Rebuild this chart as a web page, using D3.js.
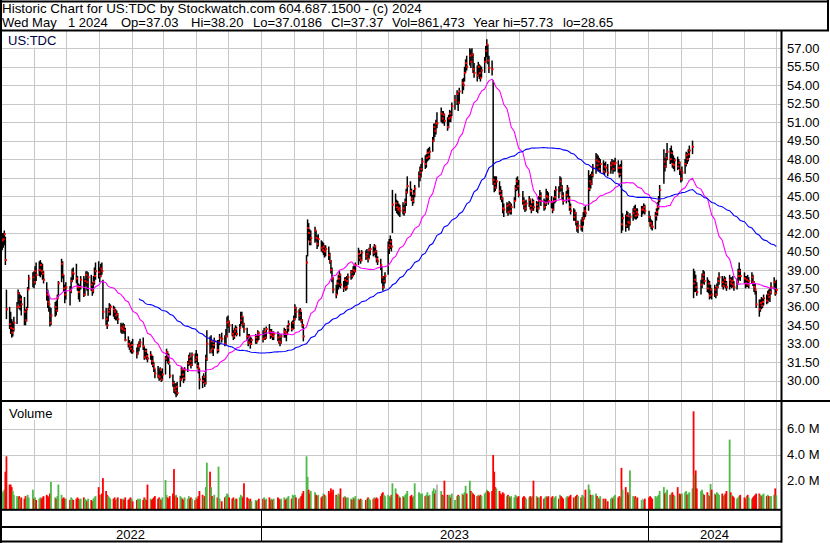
<!DOCTYPE html>
<html><head><meta charset="utf-8">
<script src="https://cdn.jsdelivr.net/npm/d3@7"></script>
<style>
body{margin:0;background:#fff;}
svg{display:block;font-family:"Liberation Sans",Arial,sans-serif;}
</style></head><body>
<svg id="c" width="830" height="543"></svg>
<script>
const headerLine1 = "Historic Chart for US:TDC by Stockwatch.com 604.687.1500 - (c) 2024";
const headerFields = ["Wed May","1 2024","Op=37.03","Hi=38.20","Lo=37.0186","Cl=37.37","Vol=861,473","Year hi=57.73","lo=28.65"];
const symbolLabel = "US:TDC";
const volumeLabel = "Volume";
const priceTicks = [30,31.5,33,34.5,36,37.5,39,40.5,42,43.5,45,46.5,48,49.5,51,52.5,54,55.5,57];
const volumeTicks = [2e6,4e6,6e6];
const yearLabels = ["2022","2023","2024"];
const maPeriods = [30, 90];
const holidays = ["2022-05-30","2022-06-20","2022-07-04","2022-09-05","2022-11-24","2022-12-26",
 "2023-01-02","2023-01-16","2023-02-20","2023-04-07","2023-05-29","2023-06-19","2023-07-04","2023-09-04",
 "2023-11-23","2023-12-25","2024-01-01","2024-01-15","2024-02-19","2024-03-29"];

const closes = [
 41.4,41.5,41.9,39.8,35.8,34.6,34.3,33.9,34.2,34.7,36.0,37.1,36.0,36.6,36.2,35.6,34.9,35.8,37.4,38.3,38.4,
 38.0,38.9,38.6,39.0,39.4,38.9,38.7,38.2,37.0,36.4,36.2,34.7,35.3,36.0,35.7,36.7,37.9,39.5,38.6,37.5,37.0,
 37.6,37.3,38.1,38.8,38.7,38.3,37.6,37.2,37.6,38.2,37.0,38.1,38.6,38.0,38.4,37.8,37.3,38.0,38.5,38.9,
 38.8,38.5,39.1,38.9,35.6,35.0,34.5,35.6,35.8,36.0,35.8,35.6,35.3,35.4,35.0,34.3,34.2,34.4,34.1,33.3,33.0,32.8,32.6,
 32.9,32.4,32.2,32.8,32.9,33.1,32.8,31.9,32.4,32.0,31.8,32.1,31.6,31.3,31.0,30.6,30.4,30.3,30.9,30.1,30.5,
 31.8,32.3,32.0,31.5,30.4,29.8,29.4,29.2,29.5,29.0,30.1,30.9,30.5,30.2,30.9,31.4,31.9,31.6,31.3,32.1,31.7,
 31.9,31.2,31.0,30.1,30.0,30.3,29.8,31.8,33.0,32.4,33.2,32.6,32.9,33.2,32.5,33.1,33.5,33.4,33.0,33.6,34.7,
 34.8,34.5,33.8,33.6,34.0,34.2,33.8,34.3,34.9,35.2,34.6,34.2,33.6,33.1,33.6,33.0,33.3,33.5,33.2,33.9,33.7,
 33.4,34.0,33.5,34.2,34.0,33.7,33.9,33.6,33.8,33.5,33.2,33.1,33.6,34.0,33.9,33.8,34.3,34.6,34.2,34.7,
 35.0,35.9,35.6,35.3,35.7,34.9,34.5,33.6,39.6,42.4,42.0,41.3,41.6,42.2,41.6,41.1,41.5,40.8,40.6,
 40.9,40.5,40.7,40.2,39.7,39.0,38.3,37.4,37.0,37.9,38.3,38.6,37.8,37.5,38.2,37.6,38.1,38.4,38.8,38.5,39.0,38.9,39.4,
 40.3,40.0,39.8,40.4,40.1,40.3,39.9,40.6,40.7,40.4,40.9,40.5,39.9,39.7,39.4,38.4,37.6,38.1,38.5,
 40.8,41.0,41.3,40.9,44.3,44.4,44.1,43.9,44.0,43.8,44.0,43.7,44.5,45.3,45.8,45.4,44.8,44.6,45.2,45.6,46.6,46.9,
 47.2,47.8,47.6,48.1,48.5,48.2,48.6,49.5,50.6,50.3,50.9,50.9,51.7,51.3,51.6,51.1,50.6,51.3,51.7,51.4,52.3,
 52.8,53.3,52.6,53.5,54.2,54.0,55.0,55.8,55.5,56.4,55.9,56.5,55.3,55.0,54.8,55.5,55.0,54.6,55.2,55.9,
 56.8,57.3,56.0,55.4,55.3,46.3,46.0,45.7,46.2,45.4,45.1,44.8,44.0,43.9,44.2,43.7,44.3,43.8,44.1,44.6,45.6,46.2,45.8,
 45.1,44.6,44.3,44.0,44.4,44.7,44.2,43.9,44.5,44.1,44.3,44.0,44.6,45.0,44.6,44.1,44.4,45.0,44.9,44.6,
 44.5,43.9,44.6,44.9,45.5,45.2,46.2,45.7,45.0,44.6,45.1,45.6,44.8,44.1,43.8,43.3,43.6,42.9,42.4,42.6,42.5,43.0,
 43.2,43.8,43.6,45.6,46.2,46.0,46.7,47.3,47.9,47.5,47.8,47.2,47.6,47.0,47.4,47.3,46.9,47.5,47.7,47.2,47.6,
 47.7,47.3,46.8,47.3,42.7,43.2,42.6,43.4,42.9,42.8,43.3,43.6,43.9,43.4,43.7,43.5,43.9,43.9,44.1,43.8,
 43.3,42.8,42.6,42.5,43.4,43.7,44.1,44.7,45.5,47.8,47.4,48.1,48.6,48.0,48.5,47.6,47.5,47.9,47.4,47.7,47.1,
 46.4,46.9,47.6,48.3,48.0,48.4,48.7,49.0,37.9,38.2,37.6,37.2,37.8,38.3,38.6,38.1,37.5,37.9,36.9,37.4,
 37.0,37.4,37.0,37.6,38.1,38.4,38.0,37.7,38.2,37.9,37.6,38.2,37.9,38.1,37.8,37.6,38.0,38.5,38.9,38.5,
 38.3,37.9,38.2,37.8,38.1,38.4,38.0,37.6,37.4,36.2,35.8,36.3,36.1,36.4,36.7,36.5,37.0,36.8,37.2,37.6,38.0,37.1,
 37.37
];
const highs = [
 42.0,42.0,42.2,41.7,37.4,36.0,35.6,35.0,34.8,35.2,36.4,37.4,37.2,37.0,36.9,36.8,35.8,36.0,37.6,38.6,38.8,
 38.9,39.3,39.6,39.7,39.8,39.6,39.5,38.9,38.0,37.4,36.9,36.0,35.9,36.4,36.5,37.0,38.1,39.9,39.7,38.6,37.8,
 38.0,37.7,38.4,39.1,39.2,39.5,38.5,37.9,37.8,38.5,38.5,38.3,38.9,38.9,38.8,38.6,38.0,38.5,39.2,39.6,
 39.7,39.2,39.5,39.6,38.2,35.9,35.2,35.9,36.3,36.2,36.1,36.0,35.8,35.7,35.5,34.7,34.6,34.7,34.6,34.3,33.6,33.3,33.1,
 33.2,33.4,32.7,33.0,33.2,33.4,33.5,32.8,32.6,32.6,32.2,32.4,32.1,32.0,31.5,31.0,31.2,31.0,31.1,30.8,31.0,
 32.0,32.6,32.4,32.2,31.3,30.5,30.0,29.8,29.8,29.9,30.4,31.1,31.0,30.9,31.1,31.6,32.1,32.3,31.9,32.3,32.2,
 32.5,32.2,31.5,31.0,30.4,30.6,30.4,32.1,34.1,33.6,33.7,33.2,33.1,33.5,33.3,33.3,33.8,33.9,33.7,34.2,35.2,
 35.3,34.9,34.6,34.1,34.3,34.5,34.4,34.6,35.6,35.6,35.2,34.7,34.3,33.8,33.8,33.6,33.5,33.8,33.7,34.1,34.0,
 34.1,34.3,34.0,34.4,34.6,34.2,34.2,34.0,34.0,34.0,33.9,33.5,33.8,34.3,34.2,34.0,34.5,34.9,34.8,34.9,
 35.3,36.2,36.0,35.8,35.9,35.6,35.0,34.6,40.2,43.1,42.8,42.3,42.2,42.5,42.2,41.8,41.9,41.4,41.3,
 41.2,41.0,41.0,40.9,40.4,39.8,39.2,38.4,37.8,38.2,38.6,38.9,38.7,38.1,38.4,38.4,38.5,38.7,39.0,39.0,39.3,39.4,39.6,
 40.8,40.6,40.3,40.6,40.6,40.7,40.5,40.8,41.1,40.9,41.1,41.0,40.6,40.1,39.9,39.3,38.5,38.5,38.8,
 41.3,41.5,41.8,41.5,45.5,45.2,44.7,44.6,44.4,44.3,44.5,44.3,44.8,45.6,46.6,46.2,45.6,45.1,45.5,45.9,47.0,47.4,
 47.6,48.1,48.3,48.4,48.8,48.9,49.0,49.8,50.9,50.9,51.2,51.8,52.2,51.9,51.9,51.7,51.4,51.6,52.0,51.9,52.6,
 53.2,53.6,53.4,53.8,54.5,54.6,55.5,56.1,56.4,57.0,56.9,57.0,56.6,55.8,55.6,55.9,55.7,55.6,55.5,56.3,
 57.2,57.73,57.3,56.4,56.0,54.4,46.6,46.6,46.6,46.2,45.8,45.5,44.9,44.4,44.5,44.4,44.6,44.5,44.4,44.9,45.9,46.5,46.6,
 46.3,45.4,44.9,44.6,44.7,45.0,44.8,44.4,44.8,44.7,44.6,44.5,45.0,45.5,45.3,44.8,44.7,45.6,45.4,45.3,
 45.0,44.6,44.9,45.5,45.8,45.8,46.6,46.5,45.9,45.3,45.4,45.9,45.7,45.0,44.4,44.0,43.9,43.7,43.0,43.0,43.1,43.3,
 43.7,44.1,44.2,47.1,46.7,46.8,47.0,47.6,48.5,48.4,48.3,48.1,48.0,47.9,47.7,47.8,47.6,47.8,48.0,47.9,47.9,
 48.1,47.9,47.5,47.6,47.9,43.6,43.5,43.8,43.7,43.3,43.6,44.0,44.2,44.3,44.0,44.0,44.2,44.2,44.4,44.3,
 43.8,43.4,43.1,43.0,43.7,44.0,44.5,45.0,45.9,48.8,48.1,48.5,49.3,48.9,49.1,48.7,48.3,48.1,48.2,48.0,47.8,
 47.2,47.4,48.0,48.6,48.5,48.8,49.1,49.5,39.1,38.9,38.6,38.0,38.2,38.7,39.0,38.9,38.4,38.2,38.1,37.8,
 37.5,37.8,37.6,37.9,38.4,38.8,38.5,38.3,38.5,38.4,38.1,38.6,38.4,38.4,38.5,38.1,38.3,39.1,39.6,39.1,
 38.8,38.5,38.5,38.6,38.4,38.8,38.6,38.1,37.9,37.3,36.6,36.6,36.8,36.7,37.0,37.0,37.3,37.4,37.5,38.0,38.4,38.1,
 38.20
];
const lows = [
 40.6,40.8,41.0,39.4,35.0,34.2,33.8,33.5,33.6,34.0,34.6,36.2,35.8,35.7,35.3,34.5,34.5,34.8,35.9,37.4,37.6,
 37.5,37.8,38.1,38.5,38.4,38.6,38.2,37.9,36.5,35.9,35.6,34.4,34.5,35.2,35.3,35.6,36.8,38.0,38.3,37.2,36.3,
 36.6,36.1,37.1,38.0,38.2,37.9,37.3,36.6,36.4,37.4,36.8,36.9,37.7,37.3,36.9,37.3,36.9,37.1,37.8,38.2,
 38.3,38.0,38.4,38.6,35.0,34.5,34.2,34.8,35.3,35.3,35.2,35.0,34.9,34.9,34.6,33.9,33.8,33.9,33.8,33.2,32.7,32.5,32.3,
 32.2,32.2,31.8,32.1,32.4,32.7,32.5,31.7,31.8,31.7,31.5,31.7,31.3,31.1,30.7,30.2,30.2,30.0,30.1,29.9,30.0,
 30.5,31.6,31.4,31.3,30.2,29.5,29.0,28.9,28.65,28.8,29.5,30.0,30.2,29.8,30.0,30.7,31.2,31.3,31.0,31.2,31.4,
 31.5,31.0,30.6,29.3,29.4,29.8,29.5,29.7,31.6,32.2,32.6,32.2,32.0,32.6,32.2,32.3,32.9,33.1,32.8,32.9,33.5,
 34.3,33.9,33.6,33.3,33.4,33.7,33.6,33.6,34.4,34.6,34.3,33.9,33.3,32.8,33.0,32.6,32.9,33.0,33.0,33.2,33.3,
 33.1,33.3,33.3,33.4,33.8,33.4,33.5,33.3,33.3,33.2,33.0,32.8,33.0,33.5,33.5,33.2,33.7,34.0,34.0,34.1,
 34.2,34.9,35.1,34.9,34.9,34.7,34.3,33.2,36.3,40.1,41.4,41.0,41.0,41.2,41.3,40.7,40.9,40.5,40.4,
 40.2,40.0,40.1,39.8,39.5,38.7,38.0,37.1,36.7,37.0,37.4,37.6,37.5,37.2,37.5,37.3,37.4,37.8,38.2,38.3,38.5,38.6,38.8,
 39.4,39.7,39.5,39.7,39.8,39.9,39.6,39.9,40.2,40.1,40.2,40.0,39.6,39.4,39.0,37.9,37.3,37.5,37.9,
 38.6,40.3,40.7,40.5,42.0,43.8,43.6,43.5,43.4,43.3,43.5,43.4,43.6,44.2,45.2,45.0,44.6,44.2,44.4,44.9,45.7,46.2,
 46.5,47.0,47.2,47.3,47.8,47.9,48.0,48.6,49.4,49.8,50.0,50.5,51.0,50.9,50.9,50.7,50.3,50.5,51.0,51.0,51.5,
 52.0,52.4,51.9,52.5,53.3,53.6,54.3,55.0,55.2,55.6,55.4,55.8,55.0,54.6,54.3,54.7,54.5,54.3,54.6,55.0,
 55.8,56.3,55.7,55.0,54.8,45.9,45.3,45.4,45.6,45.1,44.7,44.5,43.6,43.3,43.6,43.4,43.6,43.5,43.5,44.0,44.6,45.4,45.5,
 44.9,44.3,43.9,43.7,43.8,44.1,43.9,43.6,43.8,43.8,43.7,43.6,43.9,44.5,44.2,43.8,43.9,44.2,44.5,44.3,
 44.0,43.6,43.8,44.4,44.5,44.8,45.3,45.4,44.7,44.3,44.4,44.9,44.5,43.8,43.5,43.0,43.0,42.6,42.1,42.0,42.2,42.1,
 42.6,43.1,43.3,43.8,45.4,45.6,45.9,46.5,46.8,47.1,47.0,47.0,46.9,46.8,46.7,46.9,46.6,46.8,47.1,46.8,47.0,
 47.0,46.9,46.5,46.6,42.0,42.2,42.1,42.4,42.4,42.2,42.6,43.0,43.2,43.1,43.1,43.2,43.3,43.5,43.6,43.5,
 42.9,42.5,42.3,42.2,42.3,43.0,43.4,43.9,44.5,46.0,47.0,47.3,47.9,47.6,47.7,47.3,47.2,47.0,47.1,47.2,46.7,
 46.1,46.2,46.8,47.4,47.6,47.8,48.1,48.4,36.7,37.2,37.2,36.9,37.0,37.5,37.9,37.8,37.2,37.1,36.6,36.7,
 36.6,36.8,36.7,36.9,37.5,37.8,37.6,37.4,37.6,37.5,37.3,37.4,37.6,37.5,37.6,37.3,37.4,37.9,38.2,38.1,
 37.9,37.5,37.6,37.6,37.5,37.9,37.7,37.2,37.0,35.9,35.2,35.6,35.8,35.9,36.1,36.2,36.3,36.5,36.4,37.0,37.4,36.9,
 37.0186
];
// volume in millions of shares
const volumes = [
 1.2,1.1,1.3,2.7,3.9,1.7,1.7,1.5,1.2,0.9,0.8,0.7,0.8,0.6,0.7,0.6,0.8,0.6,0.9,0.7,1.3,
 0.6,0.7,0.5,0.6,0.7,0.6,0.7,0.8,0.9,0.8,0.7,1.0,1.9,0.7,0.6,0.8,1.7,0.9,0.6,0.7,0.6,
 0.6,0.5,0.7,0.6,0.5,0.6,0.7,0.6,0.5,0.6,0.7,0.6,0.5,0.4,0.6,0.5,0.4,0.6,0.7,0.8,
 1.5,0.9,0.8,1.0,2.2,1.2,0.9,0.8,0.7,0.6,0.6,0.7,0.5,0.6,0.7,0.6,0.5,0.6,0.5,0.7,0.5,0.6,0.7,
 0.6,0.4,0.5,0.6,0.5,0.6,0.5,0.7,0.6,0.5,1.7,0.6,0.5,0.6,0.7,0.8,0.6,0.7,0.6,0.5,0.7,
 2.05,0.9,0.7,0.6,0.8,1.0,2.9,0.8,0.9,0.7,0.8,0.7,0.6,0.5,0.7,0.6,0.8,0.6,0.7,0.6,0.5,
 0.7,0.6,0.8,1.2,0.9,0.7,0.8,1.5,3.4,2.7,1.5,0.8,0.7,0.9,0.7,3.1,0.6,0.4,0.7,0.8,1.0,
 0.9,0.7,0.6,0.7,0.5,0.6,0.6,0.7,0.9,0.8,0.7,1.8,0.7,0.6,0.5,0.6,0.4,0.5,0.4,0.5,0.6,
 0.6,0.7,0.5,0.6,0.7,0.5,0.6,0.5,0.6,0.7,0.6,0.5,0.6,0.7,0.5,0.6,0.7,0.8,0.6,0.9,
 0.8,0.9,0.7,0.6,0.7,0.8,1.0,1.2,3.9,2.3,1.3,1.0,1.2,1.1,0.9,0.8,0.9,0.7,0.8,
 1.0,0.9,0.8,1.2,1.0,1.4,1.1,1.3,0.9,0.8,1.0,0.9,1.4,0.7,0.8,0.7,0.6,0.7,0.6,0.5,0.7,0.6,0.8,
 0.6,0.5,0.6,0.5,0.5,0.6,0.7,0.6,0.5,0.6,0.7,0.6,0.7,0.6,0.8,1.0,1.1,0.9,0.8,
 0.9,0.8,0.7,0.9,1.8,1.4,1.0,0.9,0.8,0.7,0.8,0.7,0.9,1.0,1.2,0.8,0.9,0.7,0.8,1.8,1.1,1.0,
 0.9,1.0,0.8,0.9,1.1,0.8,0.9,1.2,1.4,1.0,1.3,1.7,1.2,0.9,0.8,2.0,0.9,0.8,0.9,0.7,1.0,
 0.5,0.8,0.9,0.8,1.0,0.9,1.1,1.6,1.0,2.0,1.2,1.1,1.0,0.9,0.8,0.9,0.8,0.9,0.8,1.0,
 1.1,1.3,1.2,1.1,1.2,4.0,2.7,1.5,1.4,1.2,1.0,0.9,1.1,1.0,0.8,0.9,0.8,0.7,0.8,0.7,0.9,0.8,0.7,
 0.8,0.7,0.8,0.7,0.6,0.7,0.8,0.7,0.8,2.0,0.8,0.7,0.6,0.7,0.8,0.6,0.7,0.8,0.7,0.8,
 0.7,0.8,0.6,0.7,0.8,0.6,0.9,0.8,0.7,0.6,0.7,0.8,0.7,0.8,0.9,0.7,0.6,0.8,0.9,0.8,0.7,0.9,
 0.8,0.7,1.3,1.7,1.3,0.9,0.8,0.9,1.0,0.8,0.7,0.6,0.8,0.6,0.5,0.6,0.4,0.6,0.7,0.6,0.8,
 0.9,0.7,0.8,0.7,3.0,1.3,1.5,1.0,1.1,0.9,2.8,0.8,0.7,0.8,0.6,0.7,0.5,0.6,0.5,0.6,
 0.7,0.8,0.7,0.6,0.8,0.7,0.8,0.9,1.2,1.5,1.0,1.1,1.3,0.9,1.0,1.1,0.9,0.8,1.5,0.9,1.0,
 0.9,1.0,1.1,1.2,0.9,1.0,1.1,1.4,7.4,2.5,2.8,1.4,1.2,1.3,1.0,0.9,1.1,0.9,0.8,1.75,
 1.3,1.0,0.9,1.1,1.0,0.9,1.0,0.8,0.9,1.0,1.2,5.2,1.1,0.9,0.8,0.7,0.6,0.7,0.8,0.9,
 0.7,0.6,0.8,0.9,0.7,0.6,0.7,0.8,0.9,1.0,1.0,0.9,0.8,0.9,1.0,0.8,0.9,0.8,0.7,0.8,0.9,1.4,
 0.861473
];

// ---- trading calendar (weekdays minus exchange holidays) ----
const hol = new Set(holidays);
const dates = [];
for (let t = Date.UTC(2022,4,2); t <= Date.UTC(2024,4,1); t += 864e5) {
  const d = new Date(t), wd = d.getUTCDay();
  if (wd === 0 || wd === 6) continue;
  if (hol.has(d.toISOString().slice(0,10))) continue;
  dates.push(d);
}
const n = Math.min(dates.length, closes.length, highs.length, lows.length, volumes.length);
const data = d3.range(n).map(i => ({date: dates[i], c: closes[i], h: highs[i], l: lows[i], v: volumes[i]*1e6}));

const svg = d3.select("#c");
const L = 2, R = 781, PT = 31, PB = 400, VT = 402, VB = 509;

const x = d3.scaleUtc().domain([new Date(Date.UTC(2022,4,1)), new Date(Date.UTC(2024,4,1))]).range([1.13, 776.3]);
const y = d3.scaleLinear().domain([30, 57]).range([380.7, 48.3]);
const yv = d3.scaleLinear().domain([0, 6e6]).range([506.4, 429.3]);

const defs = svg.append("defs");
defs.append("clipPath").attr("id","cp").append("rect").attr("x",L).attr("y",PT).attr("width",R-L).attr("height",PB-PT);
defs.append("clipPath").attr("id","cv").append("rect").attr("x",L).attr("y",VT).attr("width",R-L).attr("height",VB-VT);

svg.append("rect").attr("width",830).attr("height",543).attr("fill","#fff");

// grid
const months = d3.utcMonth.range(new Date(Date.UTC(2022,5,1)), new Date(Date.UTC(2024,4,2)));
const grid = svg.append("g").attr("stroke","#c8c8c8").attr("stroke-width",1).attr("shape-rendering","crispEdges");
grid.selectAll(".hp").data(priceTicks).join("line").attr("x1",L).attr("x2",R)
  .attr("y1",d=>Math.round(y(d))+0.5).attr("y2",d=>Math.round(y(d))+0.5);
grid.selectAll(".vp").data(months).join("line").attr("y1",PT).attr("y2",PB)
  .attr("x1",d=>Math.round(x(d))+0.5).attr("x2",d=>Math.round(x(d))+0.5);
grid.selectAll(".hv").data(volumeTicks).join("line").attr("x1",L).attr("x2",R)
  .attr("y1",d=>Math.round(yv(d))+0.5).attr("y2",d=>Math.round(yv(d))+0.5);
grid.selectAll(".vv").data(months).join("line").attr("y1",VT).attr("y2",VB)
  .attr("x1",d=>Math.round(x(d))+0.5).attr("x2",d=>Math.round(x(d))+0.5);

// label boxes
svg.append("rect").attr("x",L).attr("y",PT).attr("width",60).attr("height",16.5).attr("fill","#fff");
svg.append("text").attr("x",8).attr("y",45.3).attr("font-size",13).attr("fill","#000040").text(symbolLabel);
svg.append("rect").attr("x",L).attr("y",VT).attr("width",58).attr("height",18).attr("fill","#fff");
svg.append("text").attr("x",9).attr("y",418).attr("font-size",13).attr("fill","#000").text(volumeLabel);

// price bars
const pg = svg.append("g").attr("clip-path","url(#cp)");
pg.selectAll(".bar").data(data).join("line")
  .attr("x1",d=>x(d.date)).attr("x2",d=>x(d.date))
  .attr("y1",d=>y(d.h)).attr("y2",d=>y(d.l))
  .attr("stroke","#000").attr("stroke-width",1.5);
pg.selectAll(".cl").data(data).join("rect")
  .attr("x",d=>x(d.date)-0.5).attr("y",d=>y(d.c)-1)
  .attr("width",2).attr("height",2).attr("fill","#ff0000");

// moving averages
function sma(p){ return data.map((d,i)=> i < p-1 ? null : d3.mean(data.slice(i-p+1,i+1), e=>e.c)); }
const maColors = ["#ff00ff","#0000ff"];
maPeriods.forEach((p,k)=>{
  const m = sma(p);
  const line = d3.line().defined((d,i)=>m[i]!==null).x(d=>x(d.date)).y((d,i)=>y(m[i]));
  pg.append("path").datum(data).attr("d",line).attr("fill","none").attr("stroke",maColors[k]).attr("stroke-width",1.1);
});

// volume
const vg = svg.append("g").attr("clip-path","url(#cv)");
vg.selectAll(".vb").data(data).join("rect")
  .attr("x",d=>x(d.date)-0.9).attr("width",1.8)
  .attr("y",d=>yv(d.v)).attr("height",d=>Math.max(0, VB - yv(d.v)))
  .attr("fill",(d,i)=>{ if(i===0) return "#b4b4b4"; const p=data[i-1].c; return d.c>p?"#50b848":(d.c<p?"#ff0000":"#b4b4b4"); });

// frame lines
const blk = (x0,y0,w,h)=>svg.append("rect").attr("x",x0).attr("y",y0).attr("width",w).attr("height",h).attr("fill","#000");
blk(0,0,2,543);
blk(0,0.5,829,2);
blk(827,0,2,31);
blk(0,29.5,829,2);
blk(780.5,30,2,512.5);
blk(0,400,830,2);
blk(0,508.8,782,2);
blk(0,526,782,2);
blk(0,540.5,782,2);

// year axis
const yearStarts = [new Date(Date.UTC(2023,0,1)), new Date(Date.UTC(2024,0,1))];
svg.selectAll(".ys").data(yearStarts).join("line")
  .attr("x1",d=>Math.round(x(d))+0.5).attr("x2",d=>Math.round(x(d))+0.5)
  .attr("y1",510).attr("y2",541).attr("stroke","#000").attr("stroke-width",1).attr("shape-rendering","crispEdges");
const bounds = [0, ...yearStarts.map(d=>x(d)), R];
svg.selectAll(".yl").data(yearLabels).join("text")
  .attr("x",(d,i)=>(bounds[i]+bounds[i+1])/2).attr("y",539.3)
  .attr("text-anchor","middle").attr("font-size",13).attr("fill","#000").text(d=>d);

// right axes
svg.selectAll(".pl").data(priceTicks).join("text")
  .attr("x",787).attr("y",d=>y(d)+4.6).attr("font-size",13).attr("fill","#000")
  .text(d=>d3.format(".2f")(d));
svg.selectAll(".vl").data(volumeTicks).join("text")
  .attr("x",787).attr("y",d=>yv(d)+3.8).attr("font-size",13).attr("fill","#000")
  .text(d=>d3.format(".1f")(d/1e6)+" M");

// header
svg.append("text").attr("x",2).attr("y",12.7).attr("font-size",13.4).attr("fill","#000").text(headerLine1);
const headerX = [2, 68, 121, 191, 253, 331, 392, 473, 563];
svg.selectAll(".hf").data(headerFields).join("text")
  .attr("x",(d,i)=>headerX[i]).attr("y",26.7).attr("font-size",13).attr("fill","#000").text(d=>d);

if (dates.length !== closes.length) console.error("length mismatch", dates.length, closes.length);
</script>
</body></html>
